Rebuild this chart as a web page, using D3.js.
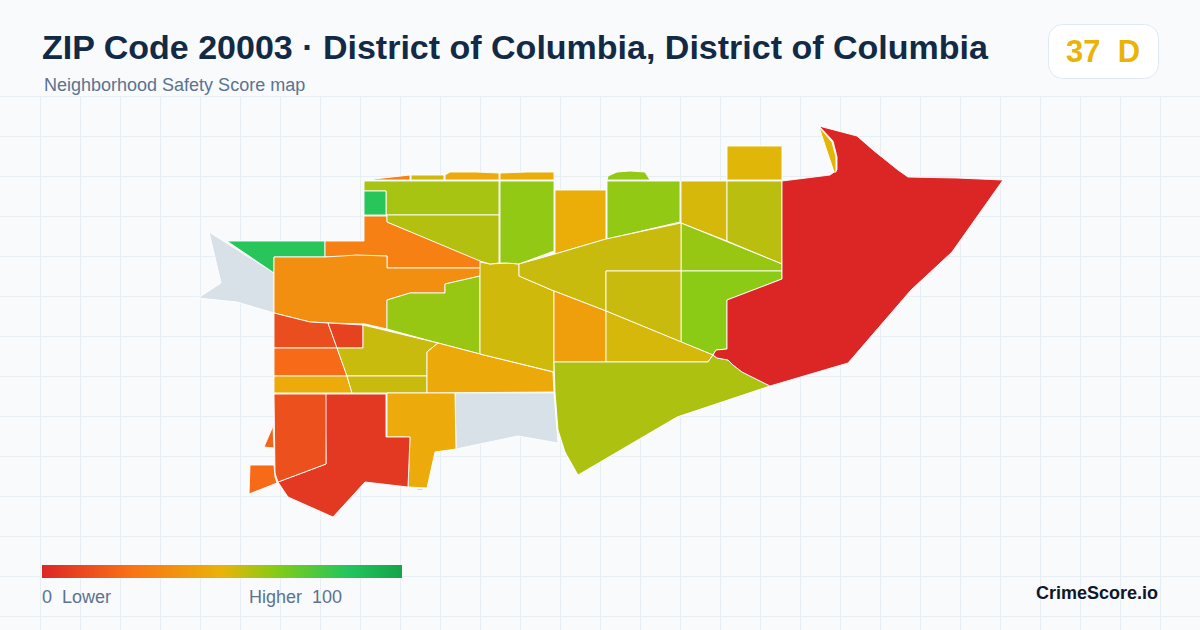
<!DOCTYPE html>
<html><head><meta charset="utf-8">
<script src="https://cdn.jsdelivr.net/npm/d3@7/dist/d3.min.js"></script>
<style>html,body{margin:0;padding:0;background:#f8fafc}svg{display:block}text{font-family:"Liberation Sans",Arial,sans-serif;white-space:pre}</style>
</head><body><svg id="c" width="1200" height="630"></svg>
<script>
const titleText = "ZIP Code 20003 · District of Columbia, District of Columbia";
const subtitleText = "Neighborhood Safety Score map";
const badgeText = "37  D";
const legendLow = "0  Lower";
const legendHigh = "Higher  100";
const brandText = "CrimeScore.io";
const legendStops = [0,25,50,65,85,100];
const legendColors = ["#dc2626","#f97316","#eab308","#84cc16","#22c55e","#16a34a"];

// map geometry in map units; origin = north-west corner of the ZIP's bounding box
const tractScores = [null,84,30,36,62, 13,9,22,47,55, 55,46,54,30,54, 47,48,60,84,58, 63,48,63,53,57, 51.5,62,64,55,55, 42,53,59,null,47, 6,14,20,22,0, 51,63,55,6];
const tractRings = [
 [[11,106],[76,147],[76,187],[39,176],[0,172],[23,157]],
 [[29,115],[127,115],[127,131],[76,131],[76,147]],
 [[127,115],[166,115],[166,90],[189,90],[189,96],[282,134],[283,142],[189,142],[189,130],[159,130],[127,131]],
 [[76,131],[127,131],[159,129],[189,130],[189,142],[283,142],[282,150],[247,158],[247,167],[212,167],[189,174],[189,203],[167,198],[130,197],[112,196],[76,187]],
 [[189,174],[212,167],[247,167],[247,158],[282,150],[282,228],[240,217],[189,203]],
 [[76,187],[112,196],[130,197],[139,222],[76,222]],
 [[130,197],[165,199],[165,222],[139,222]],
 [[76,222],[139,222],[149,250],[76,250]],
 [[76,250],[149,250],[154,267],[76,267]],
 [[165,199],[240,217],[229,226],[229,250],[149,250],[139,222],[165,222]],
 [[149,250],[229,250],[229,267],[154,267]],
 [[229,226],[240,217],[282,228],[355,246],[356,266],[229,267]],
 [[282,136],[292,138],[309,137],[321,138],[321,150],[356,165],[356,246],[282,228]],
 [[176,53],[212,49],[212,54],[176,54]],
 [[213,49],[246,49],[246,54],[213,54]],
 [[247,49],[252,46],[278,46],[301,47],[301,54],[247,54]],
 [[302,47],[329,46],[356,46],[356,54],[302,54]],
 [[166,55],[301,55],[301,89],[188,89],[188,65],[166,65]],
 [[166,65],[188,65],[188,89],[166,89]],
 [[189,89],[301,89],[301,137],[292,138],[282,135],[189,96]],
 [[302,55],[356,55],[356,125],[321,138],[309,137],[302,137]],
 [[357,64],[408,64],[408,113],[357,128]],
 [[409,55],[482,55],[482,96],[409,113]],
 [[483,55],[529,55],[529,115],[483,97]],
 [[529,55],[584,55],[584,138],[529,115]],
 [[529,20],[584,20],[584,54],[529,54]],
 [[483,97],[584,138],[584,145],[483,145]],
 [[483,145],[584,145],[584,153],[529,174],[529,223],[518,224],[515,229],[483,216]],
 [[321,138],[357,128],[408,113],[483,97],[483,145],[408,145],[408,185],[356,165],[321,150]],
 [[408,145],[483,145],[483,216],[408,185]],
 [[356,165],[408,185],[408,236],[356,236]],
 [[408,185],[515,229],[510,236],[408,236]],
 [[356,236],[510,236],[515,229],[519,232],[530,234],[535,239],[544,246],[572,260],[479,291],[380,349],[367,326],[360,304],[357,266]],
 [[257,267],[356,267],[360,317],[320,310],[258,323]],
 [[189,267],[257,267],[258,323],[237,326],[229,362],[210,361],[212,311],[189,311]],
 [[127,268],[188,268],[188,311],[212,311],[210,361],[167,356],[135,391],[90,371],[80,356],[128,338]],
 [[76,268],[128,268],[128,338],[80,356],[77,347]],
 [[75,300],[66,321],[76,322]],
 [[52,339],[76,339],[77,351],[79,357],[51,368]],
 [[584,55],[632,49],[639,44],[639,31],[635,15],[621,0],[659,10],[675,24],[700,44],[710,51],[759,52],[805,54],[754,126],[713,164],[650,237],[572,260],[544,246],[535,239],[530,234],[519,232],[515,229],[518,224],[529,223],[529,174],[584,153]],
 [[621,1],[634,16],[638,31],[638,46],[636,46]],
 [[409,54],[410,50],[419,46],[432,45],[447,46],[452,54]],
 [[707,172],[727,152],[708,172]],
 [[219,363],[225,363],[225,364],[219,364]]
];
const svg = d3.select("#c");
const scoreColor = d3.scaleLinear().domain(legendStops).range(legendColors);
const noDataColor = "#d8e0e8";

// background grid
const gridXs = d3.range(40,1200,40), gridYs = d3.range(96,630,40);
const grid = svg.append("g").attr("stroke","#e8eff4").attr("stroke-width",1);
grid.selectAll("line.v").data(gridXs).join("line").attr("x1",d=>d+.5).attr("x2",d=>d+.5).attr("y1",96).attr("y2",630);
grid.selectAll("line.h").data(gridYs).join("line").attr("x1",0).attr("x2",1200).attr("y1",d=>d+.5).attr("y2",d=>d+.5);

// map
const projection = d3.geoIdentity().translate([198,126]);
const path = d3.geoPath(projection);
const features = tractRings.map((r,i)=>({type:"Feature",properties:{score:tractScores[i]},geometry:{type:"LineString",coordinates:r.concat([r[0]])}}));
svg.append("g").selectAll("path").data(features).join("path")
  .attr("d",path).attr("fill",d=>d.properties.score===null?noDataColor:scoreColor(d.properties.score))
  .attr("stroke","#fff").attr("stroke-width",0.9).attr("stroke-linejoin","round");

// title block
svg.append("text").attr("x",42).attr("y",59).attr("font-size",34).attr("font-weight",700).attr("fill","#132a46").text(titleText);
svg.append("text").attr("x",44).attr("y",91).attr("font-size",18).attr("fill","#5b7390").text(subtitleText);

// score badge
svg.append("rect").attr("x",1048.5).attr("y",24.5).attr("width",110).attr("height",54).attr("rx",14).attr("fill","#fff").attr("stroke","#e2e8f0");
svg.append("text").attr("x",1103).attr("y",62).attr("text-anchor","middle").attr("font-size",31).attr("font-weight",700).attr("fill","#eab308").text(badgeText);

// legend
const legendX = d3.scaleLinear().domain([0,100]).range([42,402]);
const grad = svg.append("defs").append("linearGradient").attr("id","lg");
grad.selectAll("stop").data(legendStops).join("stop").attr("offset",d=>d+"%").attr("stop-color",d=>scoreColor(d));
svg.append("rect").attr("x",legendX(0)).attr("y",565).attr("width",legendX(100)-legendX(0)).attr("height",13).attr("fill","url(#lg)");
svg.append("text").attr("x",42).attr("y",603).attr("font-size",18).attr("fill","#5b7390").text(legendLow);
svg.append("text").attr("x",249).attr("y",603).attr("font-size",18).attr("fill","#5b7390").text(legendHigh);
svg.append("text").attr("x",1158).attr("y",599).attr("text-anchor","end").attr("font-size",18).attr("font-weight",700).attr("fill","#0f172a").text(brandText);
</script></body></html>
